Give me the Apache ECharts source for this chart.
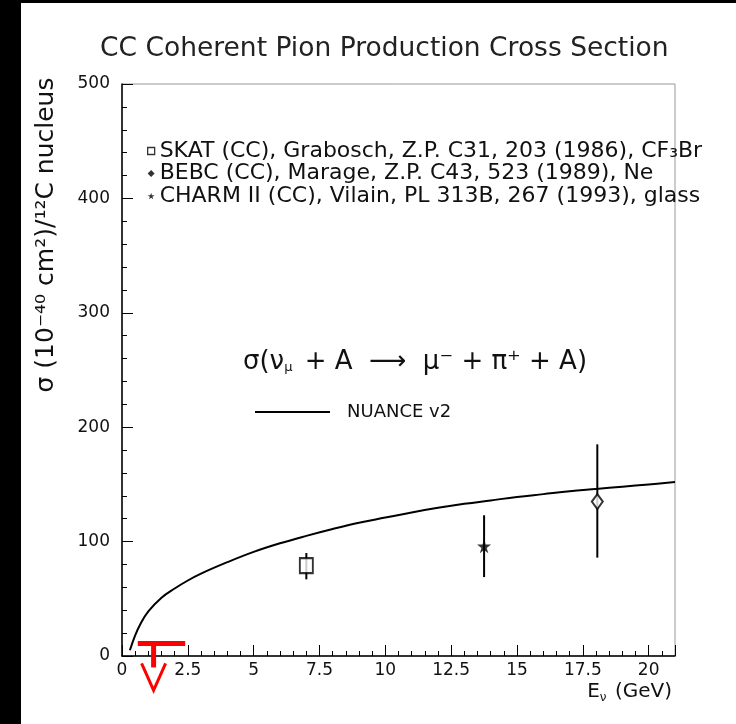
<!DOCTYPE html>
<html><head><meta charset="utf-8">
<script src="https://cdn.jsdelivr.net/npm/echarts@6/dist/echarts.min.js"></script>
<style>html,body{margin:0;padding:0;background:#000;}#c{width:736px;height:724px;}</style>
</head><body><div id="c"></div>
<script>
// NUANCE v2 prediction
const curveE = [0.3,0.5,0.7,1.0,1.5,2,2.5,3,4,5,6,7,8,9,10,11,12,13,14,15,16,17,18,19,20,21];
const curveSigma = [5,18,28,39,51,59,66,72,82,91,98.5,105,111,116.5,121,125.5,129.5,133,136,139,141.5,144,146,148,150,152];
// measurements [E, sigma, low, high]
const skatPt = [7.0, 79, 67, 90];
const bebcPt = [18.05, 135, 86, 185];
const charmPt = [13.75, 96, 69, 123];
// red upper limit [E, sigma, barFrom, barTo]
const limitPt = [1.2, 11, 0.6, 2.4];
const xTicks = ['0','2.5','5','7.5','10','12.5','15','17.5','20'];
const yTicks = ['0','100','200','300','400','500'];
const seriesNames = ['SKAT (CC), Grabosch, Z.P. C31, 203 (1986), CF₃Br', 'BEBC (CC), Marage, Z.P. C43, 523 (1989), Ne', 'CHARM II (CC), Vilain, PL 313B, 267 (1993), glass', 'NUANCE v2'];

const F = 'DejaVu Sans';
const starPath = 'path://M50,0 L61,35 L98,35 L68,57 L79,91 L50,70 L21,91 L32,57 L2,35 L39,35 Z';

const chart = echarts.init(document.getElementById('c'));
const errData = [skatPt, bebcPt, charmPt].map(p => [p[0], p[2], p[3]]);

chart.setOption({
  backgroundColor: '#fff',
  animation: false,
  title: {
    text: 'CC Coherent Pion Production Cross Section',
    left: 95, top: 31,
    textStyle: {fontFamily: F, fontSize: 26.5, fontWeight: 'normal', color: '#222'}
  },
  grid: {left: 122, top: 84, right: 61, bottom: 68, show: true, borderColor: '#999', borderWidth: 1, backgroundColor: 'transparent'},
  xAxis: {
    type: 'value', min: 0, max: 21, interval: 2.5,
    axisLine: {show: true, onZero: false, lineStyle: {color: '#000', width: 1.5}},
    axisTick: {show: true, inside: true, length: 11, lineStyle: {color: '#000', width: 1}},
    minorTick: {show: true, splitNumber: 5, length: 5, lineStyle: {color: '#000', width: 1}},
    splitLine: {show: false},
    axisLabel: {showMaxLabel: false, margin: 6, fontFamily: F, fontSize: 17, color: '#111',
      formatter: (v) => { const i = Math.round(v / 2.5); return (Math.abs(v - i*2.5) < 1e-6 && xTicks[i]) ? xTicks[i] : ''; }}
  },
  yAxis: {
    type: 'value', min: 0, max: 500, interval: 100,
    axisLine: {show: true, onZero: false, lineStyle: {color: '#000', width: 1.5}},
    axisTick: {show: true, inside: true, length: 11, lineStyle: {color: '#000', width: 1}},
    minorTick: {show: true, splitNumber: 5, length: 5, lineStyle: {color: '#000', width: 1}},
    splitLine: {show: false},
    axisLabel: {margin: 12, fontFamily: F, fontSize: 17, color: '#111',
      formatter: (v) => yTicks[Math.round(v / 100)] || ''}
  },
  legend: [
    {
      orient: 'vertical', left: 142, top: 135, itemGap: 0.5, itemWidth: 7, itemHeight: 7,
      textStyle: {fontFamily: F, fontSize: 22, color: '#111'},
      data: [
        {name: seriesNames[0], icon: 'rect', itemStyle: {color: '#fff', borderColor: '#000', borderWidth: 1.3}},
        {name: seriesNames[1], icon: 'diamond', itemStyle: {color: '#000', borderColor: '#000', borderWidth: 0}},
        {name: seriesNames[2], icon: starPath, itemStyle: {color: '#000', borderWidth: 0}}
      ],
      selectedMode: false
    },
    {
      left: 255, top: 403, padding: 0, itemWidth: 75, itemHeight: 2,
      textStyle: {fontFamily: F, fontSize: 18, color: '#111', padding: [0,0,0,12]},
      data: [{name: seriesNames[3], icon: 'rect', itemStyle: {color: '#000', borderWidth: 0}}], selectedMode: false
    }
  ],
  series: [
    {
      name: seriesNames[3], type: 'line', data: curveE.map((e, i) => [e, curveSigma[i]]),
      symbol: 'none', smooth: 0.4, lineStyle: {color: '#000', width: 2}, itemStyle: {color: '#000'}, z: 2
    },
    {
      type: 'custom', data: errData, z: 3,
      renderItem: (params, api) => {
        const a = api.coord([api.value(0), api.value(1)]);
        const b = api.coord([api.value(0), api.value(2)]);
        return {type: 'line', shape: {x1: a[0], y1: a[1], x2: b[0], y2: b[1]}, style: {stroke: '#000', lineWidth: 2}};
      }
    },
    {
      name: seriesNames[0], type: 'scatter', data: [[skatPt[0], skatPt[1]]],
      symbol: 'rect', symbolSize: [13, 15], itemStyle: {color: '#fff', borderColor: '#000', borderWidth: 2}, z: 5
    },
    {
      name: seriesNames[1], type: 'scatter', data: [[bebcPt[0], bebcPt[1]]],
      symbol: 'diamond', symbolSize: [11, 15], itemStyle: {color: '#fff', borderColor: '#000', borderWidth: 2}, z: 5
    },
    {
      name: seriesNames[2], type: 'scatter', data: [[charmPt[0], charmPt[1]]],
      symbol: starPath, symbolSize: 14, itemStyle: {color: '#000'}, z: 5
    },
    {
      type: 'custom', data: [limitPt], z: 6, clip: false,
      renderItem: (params, api) => {
        const p = api.coord([api.value(0), api.value(1)]);
        const a = api.coord([api.value(2), api.value(1)]);
        const b = api.coord([api.value(3), api.value(1)]);
        const red = '#ff0000';
        return {type: 'group', children: [
          {type: 'line', shape: {x1: a[0], y1: a[1], x2: b[0], y2: b[1]}, style: {stroke: red, lineWidth: 5}},
          {type: 'line', shape: {x1: p[0], y1: p[1], x2: p[0], y2: p[1] + 24}, style: {stroke: red, lineWidth: 5}},
          {type: 'polyline', shape: {points: [[p[0] - 12, p[1] + 20], [p[0], p[1] + 47], [p[0] + 12, p[1] + 20]]}, style: {stroke: red, lineWidth: 3, fill: null}}
        ]};
      }
    }
  ],
  graphic: [
    {type: 'rect', left: 0, top: 0, shape: {width: 21, height: 724}, style: {fill: '#000'}, silent: true},
    {type: 'rect', left: 0, top: 0, shape: {width: 736, height: 3}, style: {fill: '#000'}, silent: true},
    {type: 'text', x: 46, y: 235, rotation: Math.PI / 2, silent: true,
      style: {text: 'σ (10⁻⁴⁰ cm²)/¹²C nucleus', fontFamily: F, fontSize: 25, fill: '#111', align: 'center', verticalAlign: 'middle'}},
    {type: 'text', x: 672, y: 692, silent: true,
      style: {text: 'E{s|ν} (GeV)', fontFamily: F, fontSize: 20, fill: '#111', align: 'right', verticalAlign: 'middle',
        rich: {s: {fontFamily: F, fontSize: 12, fill: '#111', padding: [12, 2, 0, 0]}}}},
    {type: 'text', x: 243, y: 362, silent: true,
      style: {text: 'σ(ν{s|μ} + A  ⟶  μ⁻ + π⁺ + A)', fontFamily: F, fontSize: 26, fill: '#111', align: 'left', verticalAlign: 'middle',
        rich: {s: {fontFamily: F, fontSize: 13, fill: '#111', padding: [12, 4, 0, 0]}}}}
  ]
});
</script>
</body></html>
